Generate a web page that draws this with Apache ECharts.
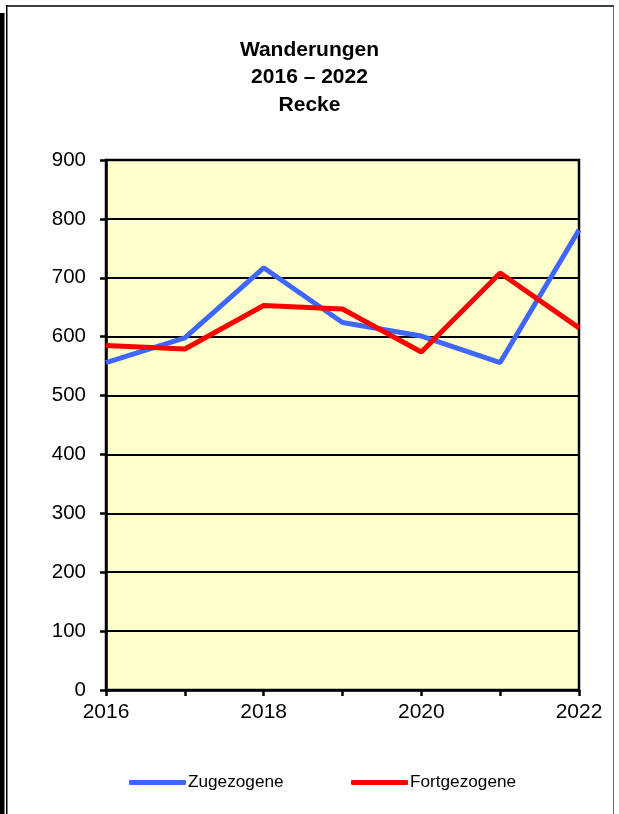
<!DOCTYPE html>
<html>
<head>
<meta charset="utf-8">
<script src="https://cdn.jsdelivr.net/npm/echarts@6/dist/echarts.min.js"></script>
<style>
html,body{margin:0;padding:0;background:#fff;}
#c{width:619px;height:814px;}
</style>
</head>
<body>
<div id="c"></div>
<script>
const titleLines = ['Wanderungen', '2016 \u2013 2022', 'Recke'];
const years = ['2016', '2017', '2018', '2019', '2020', '2021', '2022'];
const zugezogene = [556, 598, 717, 624, 601, 556, 781];
const fortgezogene = [585, 579, 653, 647, 574, 708, 615];
const yTicks = { min: 0, max: 900, interval: 100 };

const FONT = '"Liberation Sans", Arial, sans-serif';
const chart = echarts.init(document.getElementById('c'), null, { renderer: 'canvas' });
chart.setOption({
  backgroundColor: '#ffffff',
  animation: false,
  title: {
    text: titleLines.join('\n'),
    left: 'center',
    top: 31,
    textStyle: { fontFamily: FONT, fontWeight: 'bold', fontSize: 21, lineHeight: 27.5, color: '#000' }
  },
  graphic: [
    { type: 'rect', shape: { x: 0, y: 13, width: 4.5, height: 801 }, style: { fill: '#000' }, silent: true },
    { type: 'line', shape: { x1: 6.75, y1: 5, x2: 6.75, y2: 814 }, style: { stroke: '#000', lineWidth: 1.5 }, silent: true },
    { type: 'line', shape: { x1: 6, y1: 6, x2: 614, y2: 6 }, style: { stroke: '#000', lineWidth: 1.5 }, silent: true },
    { type: 'line', shape: { x1: 613.5, y1: 6, x2: 613.5, y2: 814 }, style: { stroke: '#666', lineWidth: 1 }, silent: true }
  ],
  legend: [
    {
      data: ['Zugezogene'], left: 124, top: 769, icon: 'roundRect',
      itemWidth: 57, itemHeight: 5, itemGap: 4,
      textStyle: { fontFamily: FONT, fontSize: 17.2, color: '#000', padding: [0, 0, 0, -3] }
    },
    {
      data: ['Fortgezogene'], left: 346, top: 769, icon: 'roundRect',
      itemWidth: 57, itemHeight: 5, itemGap: 4,
      textStyle: { fontFamily: FONT, fontSize: 17.2, color: '#000', padding: [0, 0, 0, -3] }
    }
  ],
  grid: {
    left: 106, right: 40, top: 160, bottom: 124,
    show: true, backgroundColor: '#FFFFCC', borderColor: '#000', borderWidth: 2.5
  },
  xAxis: {
    type: 'category', data: years, boundaryGap: false,
    axisLine: { lineStyle: { color: '#000', width: 2.5 } },
    axisTick: { show: true, interval: 0, length: 6, lineStyle: { color: '#000', width: 2.5 } },
    axisLabel: { interval: 1, margin: 12, fontFamily: FONT, fontSize: 21, color: '#000' },
    splitLine: { show: false }
  },
  yAxis: {
    type: 'value', min: yTicks.min, max: yTicks.max, interval: yTicks.interval,
    axisLine: { show: true, lineStyle: { color: '#000', width: 2.5 } },
    axisTick: { show: true, length: 6, lineStyle: { color: '#000', width: 2.5 } },
    axisLabel: { margin: 20, fontFamily: FONT, fontSize: 20.5, color: '#000' },
    splitLine: { show: true, lineStyle: { color: '#000', width: 2 } }
  },
  series: [
    {
      name: 'Zugezogene', type: 'line', data: zugezogene, symbol: 'none',
      lineStyle: { color: '#3F66FF', width: 5 }, itemStyle: { color: '#3F66FF' }, z: 3
    },
    {
      name: 'Fortgezogene', type: 'line', data: fortgezogene, symbol: 'none',
      lineStyle: { color: '#FF0000', width: 5 }, itemStyle: { color: '#FF0000' }, z: 4
    }
  ]
});
</script>
</body>
</html>
